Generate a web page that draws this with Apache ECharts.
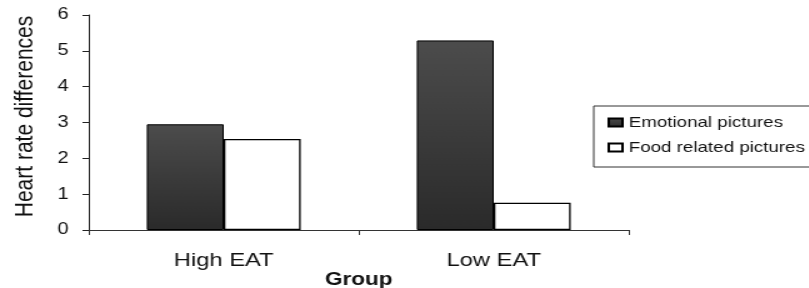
<!DOCTYPE html>
<html>
<head>
<meta charset="utf-8">
<script src="https://cdn.jsdelivr.net/npm/echarts@6/dist/echarts.min.js"></script>
<style>
  html, body { margin: 0; padding: 0; background: #fff; overflow: hidden; }
  /* the scanned figure is stretched sideways, so draw narrower and widen it */
  #chart { width: 647px; height: 288px; transform: scaleX(1.25); transform-origin: 0 0; }
</style>
</head>
<body>
<div id="chart"></div>
<script>
// 数据
const groups = ['High EAT', 'Low EAT']
const emotional = [2.95, 5.29]
const foodRelated = [2.54, 0.76]
const yTicks = [0, 1, 2, 3, 4, 5, 6]

const chart = echarts.init(document.getElementById('chart'))

const font = 'Arial, "Liberation Sans", sans-serif'

const darkFill = {
  type: 'linear', x: 0, y: 0, x2: 0, y2: 1,
  colorStops: [
    { offset: 0, color: '#4c4c4c' },
    { offset: 1, color: '#2a2a2a' }
  ]
}

const option = {
  backgroundColor: '#fff',
  animation: false,
  textStyle: { fontFamily: font },
  grid: { left: 71, right: 144, top: 15, bottom: 58, outerBoundsMode: 'none' },
  legend: {
    orient: 'vertical',
    left: 475,
    top: 106,
    padding: [9, 40, 12, 11],
    itemGap: 10,
    itemWidth: 11,
    itemHeight: 8,
    borderColor: '#333',
    borderWidth: 1,
    borderRadius: 0,
    textStyle: { fontSize: 15, color: '#111', fontFamily: font },
    data: [
      { name: 'Emotional pictures', icon: 'rect' },
      { name: 'Food related pictures', icon: 'rect' }
    ]
  },
  xAxis: {
    type: 'category',
    data: groups,
    name: 'Group',
    nameLocation: 'middle',
    nameMoveOverlap: false,
    nameGap: 41,
    nameTextStyle: { fontSize: 18, fontWeight: 'bold', color: '#111', fontFamily: font },
    axisLine: { lineStyle: { color: '#333', width: 1 } },
    axisTick: { show: true, length: 5, lineStyle: { color: '#333' } },
    axisLabel: { fontSize: 19, color: '#111', margin: 21 }
  },
  yAxis: {
    type: 'value',
    min: 0,
    max: 6,
    interval: 1,
    name: 'Heart rate differences',
    nameLocation: 'middle',
    nameMoveOverlap: false,
    nameGap: 40,
    nameTextStyle: { fontSize: 21, color: '#111', fontFamily: font, padding: [0, 0, 0, 12] },
    axisLine: { show: true, lineStyle: { color: '#222', width: 1 } },
    axisTick: { show: true, length: 5, lineStyle: { color: '#222' } },
    splitLine: { show: false },
    axisLabel: {
      fontSize: 16,
      color: '#111',
      margin: 16,
      formatter: (v) => (yTicks.indexOf(v) >= 0 ? String(v) : '')
    }
  },
  series: [
    {
      name: 'Emotional pictures',
      type: 'bar',
      data: emotional,
      barGap: '0%',
      barCategoryGap: '43%',
      itemStyle: { color: darkFill, borderColor: '#000', borderWidth: 1 }
    },
    {
      name: 'Food related pictures',
      type: 'bar',
      data: foodRelated,
      itemStyle: { color: '#fff', borderColor: '#000', borderWidth: 1.3 }
    }
  ]
}

chart.setOption(option)
</script>
</body>
</html>
